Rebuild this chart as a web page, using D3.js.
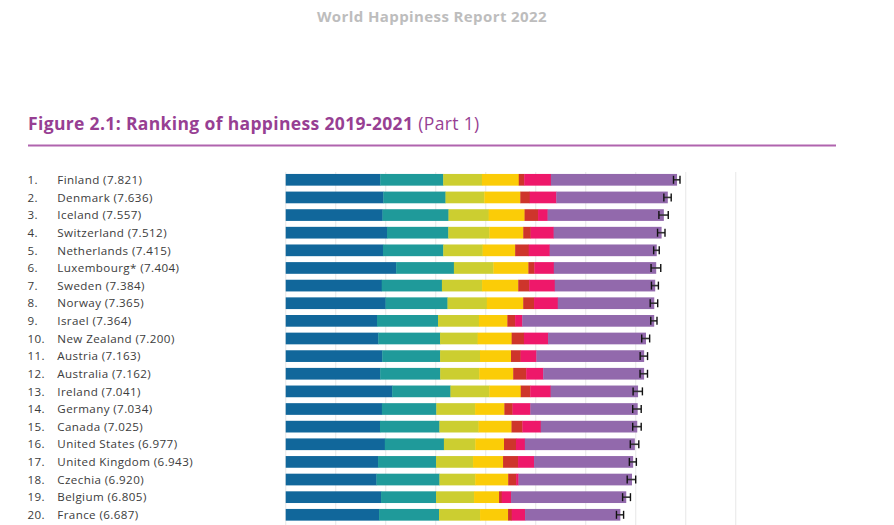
<!DOCTYPE html>
<html>
<head>
<meta charset="utf-8">
<script src="https://cdn.jsdelivr.net/npm/d3@7"></script>
<style>
  html, body { margin: 0; padding: 0; background: #fff; }
  svg { display: block; }
</style>
</head>
<body>
<svg id="chart" width="894" height="525"></svg>
<script>
const countries = ["Finland","Denmark","Iceland","Switzerland","Netherlands","Luxembourg*","Sweden","Norway","Israel","New Zealand","Austria","Australia","Ireland","Germany","Canada","United States","United Kingdom","Czechia","Belgium","France"];
const scores = [7.821,7.636,7.557,7.512,7.415,7.404,7.384,7.365,7.364,7.200,7.163,7.162,7.041,7.034,7.025,6.977,6.943,6.920,6.805,6.687];
const scoreLabels = ["7.821","7.636","7.557","7.512","7.415","7.404","7.384","7.365","7.364","7.200","7.163","7.162","7.041","7.034","7.025","6.977","6.943","6.920","6.805","6.687"];
const gdp        = [1.892,1.953,1.936,2.026,1.945,2.209,1.920,1.997,1.826,1.852,1.931,1.890,2.129,1.924,1.886,1.982,1.847,1.815,1.907,1.867];
const social     = [1.258,1.243,1.320,1.226,1.206,1.155,1.204,1.239,1.221,1.235,1.157,1.200,1.166,1.088,1.188,1.182,1.160,1.260,1.100,1.200];
const health     = [0.775,0.777,0.803,0.822,0.787,0.790,0.803,0.786,0.818,0.752,0.798,0.780,0.779,0.776,0.783,0.628,0.740,0.715,0.760,0.820];
const freedom    = [0.736,0.719,0.718,0.677,0.651,0.700,0.724,0.728,0.568,0.680,0.620,0.680,0.627,0.585,0.659,0.574,0.600,0.660,0.500,0.560];
const generosity = [0.109,0.188,0.270,0.147,0.271,0.120,0.218,0.217,0.155,0.245,0.192,0.260,0.190,0.163,0.217,0.240,0.300,0.158,0.053,0.073];
const corruption = [0.534,0.532,0.191,0.461,0.419,0.388,0.512,0.474,0.143,0.483,0.316,0.340,0.408,0.358,0.368,0.177,0.320,0.048,0.187,0.267];
const whiskerLow  = [7.756,7.563,7.464,7.437,7.359,7.307,7.315,7.290,7.301,7.120,7.089,7.087,6.948,6.940,6.940,6.892,6.873,6.830,6.738,6.615];
const whiskerHigh = [7.886,7.710,7.651,7.586,7.471,7.501,7.454,7.440,7.426,7.279,7.237,7.236,7.134,7.110,7.110,7.062,7.013,7.000,6.895,6.758];
const factorNames = ["GDP per capita","Social support","Healthy life expectancy","Freedom","Generosity","Perceptions of corruption","Dystopia + residual"];
const factorColors = ["#11679B","#1F9A9A","#CCCE30","#FBCC07","#CE352B","#EE186A","#9269AC"];
const gridTicks = [0,1,2,3,4,5,6,7,8,9];

const svg = d3.select("#chart");
const fontFamily = "'Open Sans', 'DejaVu Sans', sans-serif";

// Header
svg.append("text")
  .attr("x", 432).attr("y", 22)
  .attr("text-anchor", "middle")
  .attr("font-family", fontFamily)
  .attr("font-weight", 700)
  .attr("font-size", 15)
  .attr("letter-spacing", 0.4)
  .attr("fill", "#BDBDBD")
  .text("World Happiness Report 2022");

// Title
const title = svg.append("text")
  .attr("x", 28).attr("y", 130)
  .attr("font-family", fontFamily)
  .attr("font-size", 17.5)
  .attr("letter-spacing", 0.35)
  .attr("fill", "#973F93");
title.append("tspan").attr("font-weight", 700).text("Figure 2.1: Ranking of happiness 2019-2021");
title.append("tspan").attr("font-weight", 400).text(" (Part 1)");

svg.append("line")
  .attr("x1", 28).attr("x2", 836)
  .attr("y1", 145.5).attr("y2", 145.5)
  .attr("stroke", "#B064AE").attr("stroke-width", 2);

// Scales
const x = d3.scaleLinear().domain([0, 9]).range([285.7, 735.7]);
const y = d3.scalePoint().domain(countries).range([179.8, 514.8]);
const barH = 11.7;

// Grid
svg.append("g").selectAll("line")
  .data(gridTicks).join("line")
  .attr("x1", d => x(d)).attr("x2", d => x(d))
  .attr("y1", 172).attr("y2", 525)
  .attr("stroke", "#EBEBEB").attr("stroke-width", 1.2);

// Data rows
const rows = countries.map((c, i) => {
  const parts = [gdp[i], social[i], health[i], freedom[i], generosity[i], corruption[i]];
  const sum = d3.sum(parts);
  parts.push(scores[i] - sum);
  return { country: c, rank: i + 1, score: scores[i], label: scoreLabels[i], parts, lo: whiskerLow[i], hi: whiskerHigh[i] };
});

const segs = [];
rows.forEach(r => {
  let acc = 0;
  r.parts.forEach((v, k) => {
    segs.push({ country: r.country, k, x0: acc, x1: acc + v });
    acc += v;
  });
});

svg.append("g").selectAll("rect")
  .data(segs).join("rect")
  .attr("x", d => x(d.x0))
  .attr("width", d => Math.max(0, x(d.x1) - x(d.x0)) + 0.3)
  .attr("y", d => y(d.country) - barH / 2)
  .attr("height", barH)
  .attr("fill", d => factorColors[d.k]);

// Error bars
const eb = svg.append("g");
eb.selectAll("line.w").data(rows).join("line")
  .attr("class", "w")
  .attr("x1", d => x(d.lo)).attr("x2", d => x(d.hi))
  .attr("y1", d => y(d.country)).attr("y2", d => y(d.country))
  .attr("stroke", "#333").attr("stroke-width", 1.6);
eb.selectAll("line.l").data(rows).join("line")
  .attr("class", "l")
  .attr("x1", d => x(d.lo)).attr("x2", d => x(d.lo))
  .attr("y1", d => y(d.country) - 4).attr("y2", d => y(d.country) + 4)
  .attr("stroke", "#111").attr("stroke-width", 1.4);
eb.selectAll("line.h").data(rows).join("line")
  .attr("class", "h")
  .attr("x1", d => x(d.hi)).attr("x2", d => x(d.hi))
  .attr("y1", d => y(d.country) - 4).attr("y2", d => y(d.country) + 4)
  .attr("stroke", "#111").attr("stroke-width", 1.4);

// Labels
const lab = svg.append("g")
  .attr("font-family", fontFamily)
  .attr("font-size", 11.6)
  .attr("letter-spacing", 0.4)
  .attr("fill", "#3C3C3C");
lab.selectAll("text.rank").data(rows).join("text")
  .attr("class", "rank")
  .attr("x", 27.5).attr("y", d => y(d.country))
  .attr("dy", "0.36em")
  .text(d => d.rank + ".");
lab.selectAll("text.name").data(rows).join("text")
  .attr("class", "name")
  .attr("x", 57.3).attr("y", d => y(d.country))
  .attr("dy", "0.36em")
  .text(d => d.country + " (" + d.label + ")");
</script>
</body>
</html>
